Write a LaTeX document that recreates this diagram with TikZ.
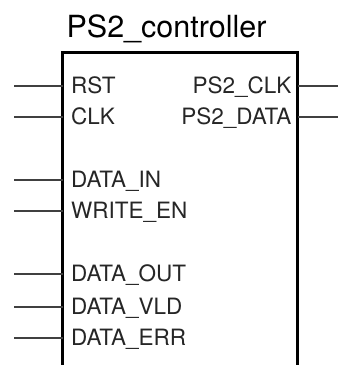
\documentclass[tikz,border=0pt]{standalone}
\usepackage{fontspec}
\setmainfont{TeX Gyre Heros}
\begin{document}
\begin{tikzpicture}[x=1pt,y=1pt,
  pinlbl/.style={inner sep=0pt,text height=15.8pt,text depth=0pt,font=\fontsize{22.5pt}{25pt}\selectfont,text=black!85},
  pinwire/.style={draw=black!75,line width=1.1pt},
  boxedge/.style={draw=black,line width=3pt}]
\useasboundingbox (0,0) rectangle (338,365);
% box corners
\coordinate (bl) at (62.5,-5);
\coordinate (tl) at (62.5,312);
\coordinate (tr) at (297.5,312);
\coordinate (br) at (297.5,-5);
\draw[boxedge] (bl) -- (tl) -- (tr) -- (br);
\node[inner sep=0pt,font=\fontsize{30.5pt}{33pt}\selectfont,text height=21pt,text depth=0pt,anchor=center] (title) at (166.5,338) {PS2\_controller};
% left pins
\foreach \nm/\txt/\yy in {rst/RST/279, clk/CLK/248, din/DATA\_IN/185, wen/WRITE\_EN/154, dout/DATA\_OUT/91, dvld/DATA\_VLD/58, derr/DATA\_ERR/27}{
  \node[pinlbl,anchor=west] (\nm) at (71,\yy) {\txt};
  \coordinate (\nm-in) at (62.5,\yy);
  \coordinate (\nm-end) at (14,\yy);
  \draw[pinwire] (\nm-end) -- (\nm-in);
}
% right pins
\foreach \nm/\txt/\yy in {psclk/PS2\_CLK/279, psdata/PS2\_DATA/248}{
  \node[pinlbl,anchor=east] (\nm) at (291.5,\yy) {\txt};
  \coordinate (\nm-in) at (297.5,\yy);
  \coordinate (\nm-end) at (338,\yy);
  \draw[pinwire] (\nm-in) -- (\nm-end);
}
\end{tikzpicture}
\end{document}
